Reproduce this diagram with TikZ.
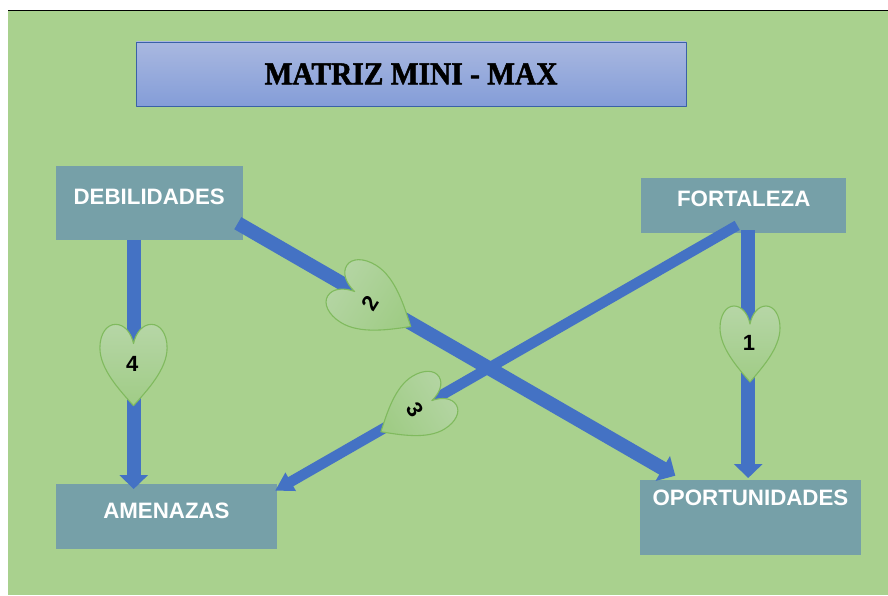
\documentclass[tikz,border=0pt]{standalone}
\usepackage{fontspec}
\setmainfont{Liberation Sans}
\newfontfamily\titlefont[BoldFeatures={FakeBold=1.6,FakeStretch=0.92}]{Liberation Serif}
\usetikzlibrary{arrows.meta}
\definecolor{fondo}{HTML}{A9D18E}
\definecolor{caja}{HTML}{76A0A8}
\definecolor{flecha}{HTML}{4472C4}
\definecolor{titulotop}{HTML}{A9B8E0}
\definecolor{titulobot}{HTML}{849DD8}
\definecolor{corazontop}{HTML}{B6D6A6}
\definecolor{corazonbot}{HTML}{A0CC86}
\definecolor{corazonborde}{HTML}{80BA5E}
\begin{document}
	\begin{tikzpicture}[x=1pt, y=-1pt, line join=round, font=\fontsize{22.3}{24}\selectfont\bfseries]
			\tikzset{caja style/.style={fill=caja, text=white, inner sep=0pt, anchor=north west},
				flecha style/.style={draw=flecha, line width=14pt, line cap=butt, -{Triangle[length=14pt, width=28pt]}}}
			\useasboundingbox (0,0) rectangle (888,595);
			\fill[white] (0,0) rectangle (888,595);
			\fill[fondo] (8,10) rectangle (888,595);
			\draw[line width=1.3pt] (8,10.5)--(888,10.5);
			\node[draw=flecha!85!black, top color=titulotop, bottom color=titulobot, line width=0.7pt, inner sep=0pt, minimum width=549.5pt, minimum height=64pt, font=\titlefont\fontsize{32}{34}\selectfont\bfseries, anchor=north west] (titulo) at (136,41.5) {MATRIZ MINI - MAX};
			\node[caja style, minimum width=187pt, text height=38.5pt, text depth=35.5pt] (debilidades) at (55.5,165.5) {DEBILIDADES};
			\node[caja style, minimum width=205pt, text height=28.7pt, text depth=26.3pt] (fortaleza) at (641,178) {FORTALEZA};
			\node[caja style, minimum width=221.5pt, text height=34.3pt, text depth=30.7pt] (amenazas) at (55.5,484) {AMENAZAS};
			\node[caja style, minimum width=220.5pt, text height=25.7pt, text depth=49.3pt] (oportunidades) at (640,480) {OPORTUNIDADES};
			\draw[flecha style] ([xshift=-15.5pt]debilidades.south)--([xshift=-32.75pt, yshift=-5pt]amenazas.north);
			\draw[flecha style] ([xshift=4.5pt, yshift=3pt]fortaleza.south)--([xshift=-2.25pt, yshift=2pt]oportunidades.north);
			\draw[flecha style, line width=10.5pt, -{Triangle[length=18pt, width=20pt]}] ([xshift=-6.5pt, yshift=8pt]fortaleza.south)--([xshift=-2.3pt, yshift=-6.7pt]amenazas.north east);
			\draw[flecha style, -{Triangle[length=14.5pt, width=28pt]}] ([xshift=-5.1pt, yshift=16.7pt]debilidades.south east)--([xshift=35.3pt, yshift=4.3pt]oportunidades.north west);
			\foreach \cx/\cy/\rot/\sx/\sy/\nx/\ny/\num in {750/344/0/1/1/749/343/1, 374/303.6/58/1.12/1.14/370/303/2, 414.3/411.3/-58.5/1.03/1.03/415/410/3, 133.5/365/0/1.12/1.07/132.3/364/4}{
				\begin{scope}[shift={(\cx,\cy)}, rotate=\rot, xscale=\sx, yscale=\sy]
					\draw[draw=corazonborde, line width=1.1pt, top color=corazontop, bottom color=corazonbot, shading angle=\rot] (0,-20) .. controls (2,-30) and (8,-38) .. (16,-38) .. controls (24,-38) and (30,-29) .. (30,-16) .. controls (30,4) and (12,24) .. (0,38) .. controls (-12,24) and (-30,4) .. (-30,-16) .. controls (-30,-29) and (-24,-38) .. (-16,-38) .. controls (-8,-38) and (-2,-30) .. (0,-20) -- cycle;
				\end{scope}
				\node[rotate=\rot, font=\fontsize{22}{24}\selectfont\bfseries, inner sep=0pt] (corazon\num) at (\nx,\ny) {\num};
			}
	\end{tikzpicture}
\end{document}
